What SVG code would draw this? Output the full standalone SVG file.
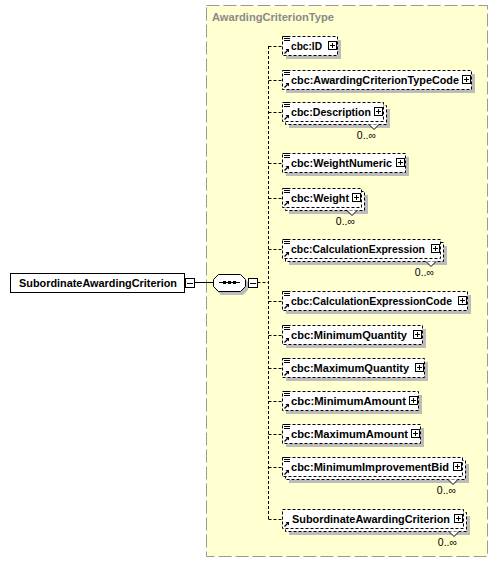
<svg xmlns="http://www.w3.org/2000/svg" xmlns:xlink="http://www.w3.org/1999/xlink" width="499" height="565" viewBox="0 0 499 565">
<style>
.lbl{font-family:"Liberation Sans",Arial,sans-serif;font-weight:bold;font-size:11.5px;fill:#000}
.occ{font-family:"Liberation Sans",Arial,sans-serif;font-size:10.5px;fill:#000;text-anchor:end}
.el{fill:#fff;stroke:#000;stroke-width:1;stroke-dasharray:3,2}
.sh{fill:#bcbcbc}
.con{fill:none;stroke:#000;stroke-width:1;stroke-dasharray:3,2}
.v{fill:#fff;stroke:#000;stroke-width:1}
</style>
<defs>
<g id="ico">
<rect x="2" y="0" width="6" height="1" fill="#000"/>
<rect x="2" y="2" width="6" height="1" fill="#000"/>
<rect x="2" y="4" width="6" height="1" fill="#000"/>
<path d="M2.5 17.5L5.5 14.5" stroke="#000" stroke-width="1.2" fill="none"/>
<polygon points="3.5,13 7,13 7,16.5" fill="#000"/>
</g>
<g id="arr">
<path d="M2.5 17.5L5.5 14.5" stroke="#000" stroke-width="1.2" fill="none"/>
<polygon points="3.5,13 7,13 7,16.5" fill="#000"/>
</g>
<g id="plus">
<rect x="0.5" y="0.5" width="8" height="8" fill="#fff" stroke="#000"/>
<path d="M2 4.5h5M4.5 2v5" stroke="#000" fill="none"/>
</g>
<g id="minus">
<rect x="0.5" y="0.5" width="9" height="9" fill="#fff" stroke="#000"/>
<path d="M2 5.5h6" stroke="#000" fill="none"/>
</g>
</defs>

<g id="type-box">
<rect x="206.5" y="5.5" width="281" height="551" fill="#ffffd0" stroke="#999" stroke-dasharray="13,4"/>
<text x="212" y="21" font-family="'Liberation Sans',Arial,sans-serif" font-weight="bold" font-size="11.5px" fill="#8a8a8a" textLength="122" lengthAdjust="spacingAndGlyphs">AwardingCriterionType</text>
</g>

<g id="connectors">
<path d="M194.5 282.5H213" stroke="#000" fill="none"/>
<path class="con" d="M257.5 282.5H268"/>
<path class="con" d="M268.5 46V519"/>
<path class="con" d="M268.5 46.5H282M268.5 80.5H282M268.5 112.5H282M268.5 163.5H282M268.5 198.5H282M268.5 249.5H282M268.5 301.5H282M268.5 335.5H282M268.5 368.5H282M268.5 401.5H282M268.5 434.5H282M268.5 467.5H282M268.5 519.5H282"/>
</g>

<g id="n-root">
<rect x="10.5" y="273.5" width="174" height="19" fill="#fff" stroke="#000"/>
<text class="lbl" x="19" y="287" textLength="158" lengthAdjust="spacingAndGlyphs">SubordinateAwardingCriterion</text>
<use xlink:href="#minus" href="#minus" x="185" y="278"/>
</g>

<g id="n-sequence">
<polygon points="221,277 243,277 248,282 248,290 243,295 221,295 216,290 216,282" fill="#bcbcbc"/>
<polygon points="218.5,274.5 240.5,274.5 245.5,279.5 245.5,286.5 240.5,291.5 218.5,291.5 213.5,286.5 213.5,279.5" fill="#fff" stroke="#000"/>
<path d="M219 282.5H240" stroke="#000" fill="none"/>
<rect x="223" y="281" width="3" height="3" fill="#000"/>
<rect x="228" y="281" width="3" height="3" fill="#000"/>
<rect x="233" y="281" width="3" height="3" fill="#000"/>
<use xlink:href="#minus" href="#minus" x="248" y="278"/>
</g>

<g id="n-id">
<rect class="sh" x="286" y="40" width="55" height="19"/>
<rect class="el" x="282.5" y="36.5" width="55" height="19"/>
<use xlink:href="#ico" href="#ico" x="282" y="36"/>
<text class="lbl" x="291" y="50" textLength="31" lengthAdjust="spacingAndGlyphs">cbc:ID</text>
<use xlink:href="#plus" href="#plus" x="328" y="41"/>
</g>

<g id="n-atc">
<rect class="sh" x="286" y="74" width="189" height="19"/>
<rect class="el" x="282.5" y="70.5" width="189" height="19"/>
<use xlink:href="#ico" href="#ico" x="282" y="70"/>
<text class="lbl" x="291" y="84" textLength="168" lengthAdjust="spacingAndGlyphs">cbc:AwardingCriterionTypeCode</text>
<use xlink:href="#plus" href="#plus" x="462" y="75"/>
</g>

<g id="n-desc">
<rect class="sh" x="289" y="109" width="101" height="19"/>
<rect class="el" x="285.5" y="105.5" width="101" height="19"/>
<rect class="el" x="282.5" y="102.5" width="101" height="19"/>
<use xlink:href="#ico" href="#ico" x="282" y="102"/>
<text class="lbl" x="291" y="116" textLength="80" lengthAdjust="spacingAndGlyphs">cbc:Description</text>
<use xlink:href="#plus" href="#plus" x="374" y="107"/>
<path class="v" d="M369 124.5L374 129.5L379 124.5"/>
<text class="occ" x="376" y="139">0..∞</text>
</g>

<g id="n-wn">
<rect class="sh" x="286" y="157" width="123" height="19"/>
<rect class="el" x="282.5" y="153.5" width="123" height="19"/>
<use xlink:href="#ico" href="#ico" x="282" y="153"/>
<text class="lbl" x="291" y="167" textLength="101" lengthAdjust="spacingAndGlyphs">cbc:WeightNumeric</text>
<use xlink:href="#plus" href="#plus" x="396" y="158"/>
</g>

<g id="n-weight">
<rect class="sh" x="289" y="195" width="79" height="19"/>
<rect class="el" x="285.5" y="191.5" width="79" height="19"/>
<rect class="el" x="282.5" y="188.5" width="79" height="19"/>
<use xlink:href="#ico" href="#ico" x="282" y="188"/>
<text class="lbl" x="291" y="202" textLength="58" lengthAdjust="spacingAndGlyphs">cbc:Weight</text>
<use xlink:href="#plus" href="#plus" x="352" y="193"/>
<path class="v" d="M347 210.5L352 215.5L357 210.5"/>
<text class="occ" x="355" y="225">0..∞</text>
</g>

<g id="n-ce">
<rect class="sh" x="289" y="246" width="158" height="19"/>
<rect class="el" x="285.5" y="242.5" width="158" height="19"/>
<rect class="el" x="282.5" y="239.5" width="158" height="19"/>
<use xlink:href="#ico" href="#ico" x="282" y="239"/>
<text class="lbl" x="291" y="253" textLength="134" lengthAdjust="spacingAndGlyphs">cbc:CalculationExpression</text>
<use xlink:href="#plus" href="#plus" x="431" y="244"/>
<path class="v" d="M426 261.5L431 266.5L436 261.5"/>
<text class="occ" x="434" y="276">0..∞</text>
</g>

<g id="n-cec">
<rect class="sh" x="286" y="295" width="185" height="19"/>
<rect class="el" x="282.5" y="291.5" width="185" height="19"/>
<use xlink:href="#ico" href="#ico" x="282" y="291"/>
<text class="lbl" x="291" y="305" textLength="161" lengthAdjust="spacingAndGlyphs">cbc:CalculationExpressionCode</text>
<use xlink:href="#plus" href="#plus" x="458" y="296"/>
</g>

<g id="n-minq">
<rect class="sh" x="286" y="329" width="140" height="19"/>
<rect class="el" x="282.5" y="325.5" width="140" height="19"/>
<use xlink:href="#ico" href="#ico" x="282" y="325"/>
<text class="lbl" x="291" y="339" textLength="116" lengthAdjust="spacingAndGlyphs">cbc:MinimumQuantity</text>
<use xlink:href="#plus" href="#plus" x="413" y="330"/>
</g>

<g id="n-maxq">
<rect class="sh" x="286" y="362" width="142" height="19"/>
<rect class="el" x="282.5" y="358.5" width="142" height="19"/>
<use xlink:href="#ico" href="#ico" x="282" y="358"/>
<text class="lbl" x="291" y="372" textLength="118" lengthAdjust="spacingAndGlyphs">cbc:MaximumQuantity</text>
<use xlink:href="#plus" href="#plus" x="415" y="363"/>
</g>

<g id="n-mina">
<rect class="sh" x="286" y="395" width="136" height="19"/>
<rect class="el" x="282.5" y="391.5" width="136" height="19"/>
<use xlink:href="#ico" href="#ico" x="282" y="391"/>
<text class="lbl" x="291" y="405" textLength="115" lengthAdjust="spacingAndGlyphs">cbc:MinimumAmount</text>
<use xlink:href="#plus" href="#plus" x="409" y="396"/>
</g>

<g id="n-maxa">
<rect class="sh" x="286" y="428" width="138" height="19"/>
<rect class="el" x="282.5" y="424.5" width="138" height="19"/>
<use xlink:href="#ico" href="#ico" x="282" y="424"/>
<text class="lbl" x="291" y="438" textLength="117" lengthAdjust="spacingAndGlyphs">cbc:MaximumAmount</text>
<use xlink:href="#plus" href="#plus" x="411" y="429"/>
</g>

<g id="n-mib">
<rect class="sh" x="289" y="464" width="180" height="19"/>
<rect class="el" x="285.5" y="460.5" width="180" height="19"/>
<rect class="el" x="282.5" y="457.5" width="180" height="19"/>
<use xlink:href="#ico" href="#ico" x="282" y="457"/>
<text class="lbl" x="291" y="471" textLength="158" lengthAdjust="spacingAndGlyphs">cbc:MinimumImprovementBid</text>
<use xlink:href="#plus" href="#plus" x="453" y="462"/>
<path class="v" d="M448 479.5L453 484.5L458 479.5"/>
<text class="occ" x="456" y="494">0..∞</text>
</g>

<g id="n-sac">
<rect class="sh" x="289" y="516" width="181" height="19"/>
<rect class="el" x="285.5" y="512.5" width="181" height="19"/>
<rect class="el" x="282.5" y="509.5" width="181" height="19"/>
<use xlink:href="#arr" href="#arr" x="282" y="509"/>
<text class="lbl" x="292" y="523" textLength="158" lengthAdjust="spacingAndGlyphs">SubordinateAwardingCriterion</text>
<use xlink:href="#plus" href="#plus" x="454" y="514"/>
<path class="v" d="M449 531.5L454 536.5L459 531.5"/>
<text class="occ" x="457" y="546">0..∞</text>
</g>
</svg>
